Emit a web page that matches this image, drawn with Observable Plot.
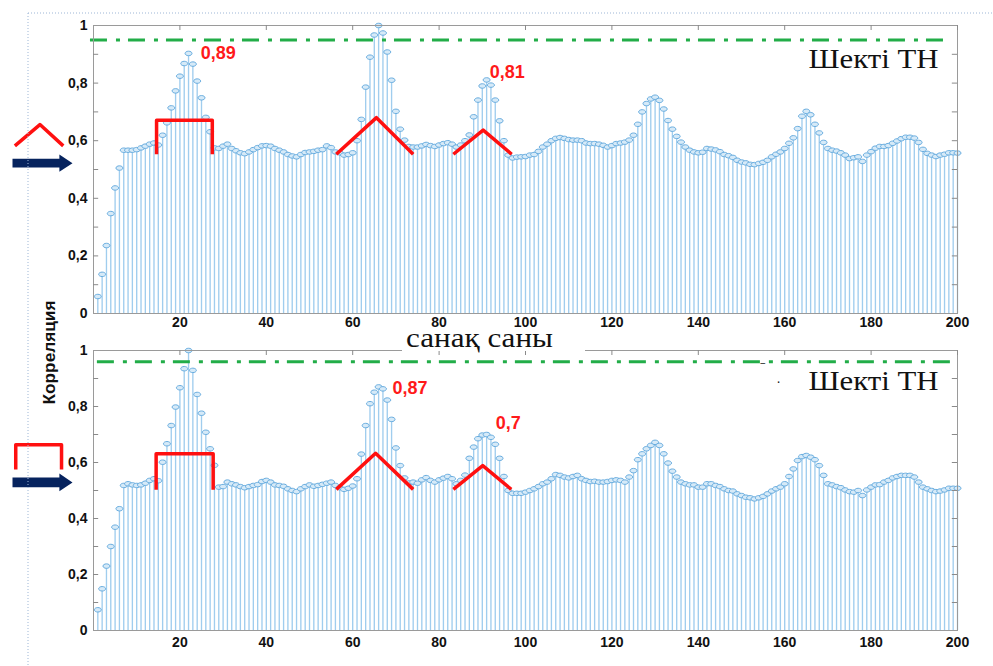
<!DOCTYPE html>
<html>
<head>
<meta charset="utf-8">
<script src="https://cdn.jsdelivr.net/npm/d3@7"></script>
<script src="https://cdn.jsdelivr.net/npm/@observablehq/plot@0.6"></script>
<style>
  html, body { margin: 0; padding: 0; background: #fff; }
  #wrap { position: relative; width: 993px; height: 666px; overflow: hidden; background: #fff; }
  #top, #bot { position: absolute; left: 0; }
  #top { top: 0; }
  #bot { top: 330px; }
  #overlay { position: absolute; left: 0; top: 0; pointer-events: none; }
</style>
</head>
<body>
<div id="wrap">
  <div id="top"></div>
  <div id="bot"></div>
</div>
<script>
// ---- data ----
const topValues = [
0.059,0.136,0.236,0.347,0.436,0.505,0.567,0.567,0.567,0.569,
0.575,0.581,0.588,0.592,0.585,0.619,0.662,0.714,0.773,0.824,
0.868,0.903,0.866,0.807,0.749,0.681,0.631,0.575,0.573,0.581,
0.588,0.573,0.565,0.558,0.555,0.561,0.569,0.576,0.582,0.583,
0.581,0.573,0.567,0.561,0.552,0.547,0.544,0.552,0.559,0.561,
0.563,0.567,0.569,0.582,0.576,0.561,0.558,0.550,0.552,0.558,
0.600,0.674,0.786,0.890,0.967,1.000,0.974,0.908,0.810,0.702,
0.640,0.602,0.580,0.578,0.578,0.582,0.587,0.583,0.580,0.585,
0.590,0.593,0.588,0.578,0.585,0.600,0.620,0.683,0.741,0.790,
0.811,0.793,0.741,0.669,0.600,0.550,0.540,0.543,0.544,0.545,
0.550,0.552,0.563,0.578,0.588,0.600,0.608,0.611,0.608,0.604,
0.602,0.602,0.600,0.592,0.590,0.590,0.588,0.584,0.578,0.583,
0.590,0.592,0.595,0.602,0.619,0.657,0.700,0.729,0.745,0.751,
0.740,0.710,0.670,0.640,0.615,0.595,0.578,0.567,0.561,0.558,
0.560,0.573,0.571,0.568,0.562,0.552,0.548,0.542,0.532,0.526,
0.523,0.518,0.517,0.521,0.525,0.532,0.544,0.553,0.561,0.573,
0.591,0.610,0.642,0.685,0.702,0.690,0.657,0.627,0.594,0.573,
0.567,0.564,0.558,0.550,0.538,0.541,0.544,0.528,0.550,0.562,
0.574,0.580,0.580,0.583,0.591,0.599,0.607,0.612,0.612,0.609,
0.594,0.570,0.556,0.550,0.545,0.550,0.553,0.558,0.558,0.557
];
const bottomValues = [
0.074,0.149,0.230,0.300,0.369,0.435,0.518,0.524,0.520,0.518,
0.520,0.526,0.536,0.542,0.535,0.601,0.667,0.732,0.798,0.867,
0.935,1.000,0.929,0.843,0.776,0.708,0.649,0.590,0.512,0.514,
0.530,0.524,0.520,0.514,0.510,0.514,0.518,0.521,0.532,0.536,
0.530,0.520,0.518,0.515,0.506,0.500,0.496,0.506,0.514,0.520,
0.515,0.518,0.522,0.526,0.530,0.518,0.510,0.504,0.508,0.516,
0.542,0.630,0.732,0.810,0.851,0.870,0.863,0.823,0.754,0.652,
0.589,0.545,0.527,0.530,0.526,0.538,0.546,0.536,0.530,0.538,
0.544,0.550,0.542,0.524,0.536,0.555,0.615,0.655,0.685,0.698,
0.700,0.690,0.665,0.615,0.550,0.500,0.490,0.490,0.490,0.494,
0.500,0.506,0.514,0.524,0.530,0.542,0.557,0.554,0.548,0.545,
0.550,0.554,0.542,0.536,0.532,0.533,0.530,0.530,0.532,0.536,
0.538,0.536,0.530,0.548,0.571,0.610,0.631,0.649,0.661,0.672,
0.661,0.631,0.598,0.569,0.548,0.530,0.524,0.520,0.520,0.512,
0.512,0.524,0.524,0.518,0.514,0.506,0.500,0.498,0.488,0.482,
0.476,0.474,0.470,0.474,0.479,0.488,0.498,0.506,0.512,0.524,
0.550,0.577,0.607,0.621,0.625,0.619,0.610,0.589,0.554,0.524,
0.520,0.514,0.510,0.502,0.496,0.494,0.500,0.482,0.502,0.512,
0.520,0.521,0.530,0.536,0.545,0.550,0.554,0.554,0.554,0.548,
0.530,0.512,0.506,0.500,0.496,0.498,0.502,0.508,0.508,0.508
];
const xTickLabels = [20, 40, 60, 80, 100, 120, 140, 160, 180, 200];
const yTickLabels = [0, 0.2, 0.4, 0.6, 0.8, 1];
const yMinorTicks = [0.1, 0.2, 0.3, 0.4, 0.5, 0.6, 0.7, 0.8, 0.9];
const thresholdTop = 0.95;
const thresholdBottom = 0.96;
const peakLabelsTop = [{x: 24.8, y: 0.904, t: "0,89"}, {x: 91.7, y: 0.837, t: "0,81"}];
const peakLabelsBottom = [{x: 69.2, y: 0.866, t: "0,87"}, {x: 93.1, y: 0.741, t: "0,7"}];
const legendText = "Шекті ТН";
const xLabel = "санақ саны";
const yLabel = "Корреляция";

// annotation shapes (data coordinates)
const shapesTop = [
  {s: "br", x: 14.6, y: 0.553}, {s: "br", x: 14.6, y: 0.671}, {s: "br", x: 27.5, y: 0.671}, {s: "br", x: 27.5, y: 0.553},
  {s: "t1", x: 56.2, y: 0.553}, {s: "t1", x: 65.5, y: 0.680}, {s: "t1", x: 74.0, y: 0.553},
  {s: "t2", x: 83.3, y: 0.553}, {s: "t2", x: 90.2, y: 0.637}, {s: "t2", x: 96.8, y: 0.553},
  {s: "lg", x: -18.2, y: 0.582}, {s: "lg", x: -12.4, y: 0.656}, {s: "lg", x: -7.0, y: 0.582}
];
const shapesBottom = [
  {s: "br", x: 14.5, y: 0.503}, {s: "br", x: 14.5, y: 0.631}, {s: "br", x: 27.7, y: 0.631}, {s: "br", x: 27.7, y: 0.503},
  {s: "t1", x: 56.2, y: 0.504}, {s: "t1", x: 65.3, y: 0.633}, {s: "t1", x: 74.0, y: 0.504},
  {s: "t2", x: 83.3, y: 0.504}, {s: "t2", x: 90.1, y: 0.589}, {s: "t2", x: 96.7, y: 0.504},
  {s: "lg", x: -18.0, y: 0.575}, {s: "lg", x: -18.0, y: 0.663}, {s: "lg", x: -7.4, y: 0.663}, {s: "lg", x: -7.4, y: 0.575}
];
const arrowTop = [
  {x: -18.75, y: 0.537}, {x: -7.9, y: 0.537}, {x: -7.9, y: 0.552}, {x: -4.86, y: 0.522},
  {x: -7.9, y: 0.492}, {x: -7.9, y: 0.507}, {x: -18.75, y: 0.507}
];
const arrowBottom = [
  {x: -18.75, y: 0.546}, {x: -7.9, y: 0.546}, {x: -7.9, y: 0.561}, {x: -4.86, y: 0.529},
  {x: -7.9, y: 0.497}, {x: -7.9, y: 0.512}, {x: -18.75, y: 0.512}
];

// ---- drawing ----
const ellipse = {
  draw(ctx, size) {
    const r = Math.sqrt(size / Math.PI), rx = r * 1.25, ry = r * 0.8, k = 0.5523;
    ctx.moveTo(rx, 0);
    ctx.bezierCurveTo(rx, ry * k, rx * k, ry, 0, ry);
    ctx.bezierCurveTo(-rx * k, ry, -rx, ry * k, -rx, 0);
    ctx.bezierCurveTo(-rx, -ry * k, -rx * k, -ry, 0, -ry);
    ctx.bezierCurveTo(rx * k, -ry, rx, -ry * k, rx, 0);
    ctx.closePath();
  }
};
const fmt = d => d === 0 ? "0" : d === 1 ? "1" : String(d).replace(".", ",");

function panel(values, opts) {
  const data = values.map((v, i) => ({x: i + 1, v}));
  const px = opts.pxPerY;
  return Plot.plot({
    width: 993,
    height: opts.height,
    marginLeft: 93,
    marginRight: 36,
    marginTop: opts.marginTop,
    marginBottom: opts.marginBottom,
    x: {domain: [0, 200], axis: null},
    y: {domain: [0, 1], axis: null},
    style: {fontFamily: "'Liberation Sans', Arial, sans-serif", fontSize: "14px", background: "transparent", overflow: "visible"},
    marks: [
      Plot.ruleX(data, {x: "x", y1: 0, y2: "v", stroke: "#a0cdee", strokeWidth: 1.35}),
      Plot.dot(data, {x: "x", y: "v", r: 2.8, symbol: ellipse, stroke: "#67acdf", strokeWidth: 1, fill: "#d6eaf8"}),
      Plot.ruleY([opts.threshold], {x1: opts.thrX1, x2: 198.6, stroke: "#22ad48", strokeWidth: 3, strokeDasharray: "17,9,4,8"}),
      Plot.frame({stroke: "#9a9a9a", strokeWidth: 1}),
      Plot.ruleY(yMinorTicks, {y: d => d, x1: 0, x2: 1.2, stroke: "#8a8a8a"}),
      Plot.ruleY(yMinorTicks, {y: d => d, x1: 198.8, x2: 200, stroke: "#8a8a8a"}),
      Plot.ruleX(xTickLabels, {x: d => d, y1: 1 - 5 / px, y2: 1, stroke: "#8a8a8a"}),
      Plot.text(yTickLabels, {x: 0, y: d => d, text: fmt, dx: -6, textAnchor: "end", fontWeight: "bold", fontSize: 14, fill: "#111"}),
      Plot.text(xTickLabels, {x: d => d, y: 0, text: d => String(d), dy: opts.xLabelDy, lineAnchor: "top", fontWeight: "bold", fontSize: 14, fill: "#111"}),
      Plot.line(opts.shapes, {x: "x", y: "y", z: "s", stroke: "#ff1010", strokeWidth: 3.5, strokeLinejoin: "round", strokeLinecap: "butt"}),
      Plot.line(opts.arrow, {x: "x", y: "y", fill: "#06235e", stroke: "none"}),
      Plot.text(opts.peaks, {x: "x", y: "y", text: "t", textAnchor: "start", fill: "#ff1a1a", fontWeight: "bold", fontSize: 18}),
      Plot.text([legendText], {x: 195.6, y: opts.legendY, text: d => d, textAnchor: "end", fontFamily: "'Liberation Serif', 'Times New Roman', serif", fontSize: 27, fill: "#111"}),
      ...(opts.extra || [])
    ]
  });
}

function stretchLegend(svg) {
  svg.querySelectorAll("text").forEach(t => {
    if (t.textContent === legendText) {
      t.setAttribute("textLength", 130);
      t.setAttribute("lengthAdjust", "spacingAndGlyphs");
    }
  });
}

const topPlot = panel(topValues, {
  height: 330, marginTop: 25, marginBottom: 17, pxPerY: 288,
  threshold: thresholdTop, thrX1: -0.7, xLabelDy: 4,
  shapes: shapesTop, arrow: arrowTop, peaks: peakLabelsTop, legendY: 0.883
});
const botPlot = panel(bottomValues, {
  height: 336, marginTop: 20, marginBottom: 36, pxPerY: 280,
  threshold: thresholdBottom, thrX1: 0.9, xLabelDy: 7,
  shapes: shapesBottom, arrow: arrowBottom, peaks: peakLabelsBottom, legendY: 0.889,
  extra: [
    Plot.text(["‾"], {x: 154.9, y: 0.935, text: d => d, fontSize: 12, fill: "#222"}),
    Plot.text(["·"], {x: 158.6, y: 0.889, text: d => d, fontSize: 14, fill: "#222"})
  ]
});
stretchLegend(topPlot);
stretchLegend(botPlot);
document.getElementById("top").appendChild(topPlot);
document.getElementById("bot").appendChild(botPlot);

// overlay: axis titles and slide border
const ns = "http://www.w3.org/2000/svg";
const ov = document.createElementNS(ns, "svg");
ov.setAttribute("id", "overlay");
ov.setAttribute("width", 993);
ov.setAttribute("height", 666);
ov.innerHTML = `
  <line x1="28" y1="13" x2="993" y2="13" stroke="#9db6d6" stroke-width="1" stroke-dasharray="1,2"/>
  <line x1="28" y1="13" x2="28" y2="666" stroke="#9db6d6" stroke-width="1" stroke-dasharray="1,2"/>
  <rect x="402" y="330" width="183" height="21" fill="#fff"/>
  <text x="406" y="347" textLength="147" lengthAdjust="spacingAndGlyphs" font-family="'Liberation Serif','Times New Roman',serif" font-size="28" fill="#111">${xLabel}</text>
  <text transform="translate(55,352.5) rotate(-90)" text-anchor="middle" textLength="104" lengthAdjust="spacingAndGlyphs" font-family="'Liberation Sans',Arial,sans-serif" font-weight="bold" font-size="16" fill="#111">${yLabel}</text>
`;
document.getElementById("wrap").appendChild(ov);
</script>
</body>
</html>
